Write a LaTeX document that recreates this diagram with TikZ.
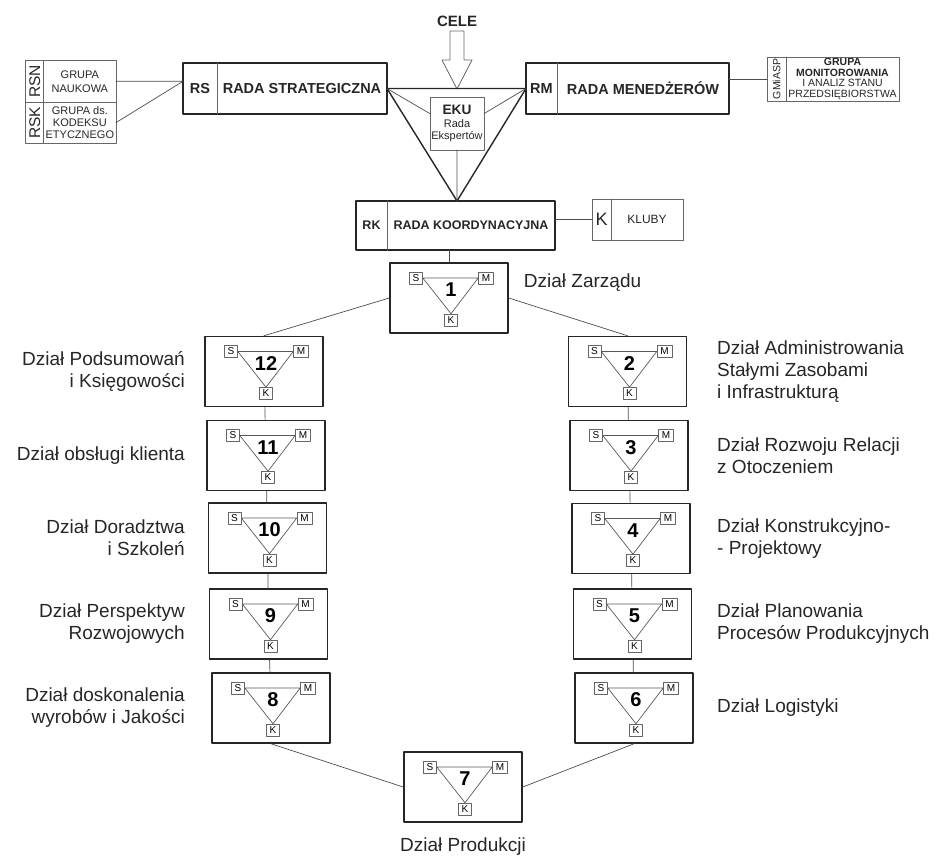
\documentclass[tikz,border=0pt]{standalone}
\usepackage{fontspec}
\setmainfont{Liberation Sans}
\usetikzlibrary{positioning}
\begin{document}
\begin{tikzpicture}[x=1pt,y=-1pt,line join=round,line cap=round]
	\tikzset{cell/.style={inner sep=0pt,outer sep=0pt,align=center,text=black!85},
		outline/.style={draw=black!85,line width=1.4pt},
		thinline/.style={draw=black!60,line width=0.8pt},
		deptbox/.style={draw=black!85,line width=1.5pt,minimum width=118pt,minimum height=70pt,inner sep=0pt},
		mini/.style={draw=black!60,line width=0.6pt,minimum width=13pt,minimum height=12pt,inner sep=0pt,font=\fontsize{10}{10}\selectfont},
		tri/.style={draw=black!65,line width=0.7pt},
		link/.style={draw=black!70,line width=0.7pt},
		num/.style={inner sep=0pt,font=\bfseries\fontsize{20}{20}\selectfont},
		deptlbl/.style={inner sep=0pt,text=black!85,font=\fontsize{19}{22}\selectfont}}
	\def \bigfont{\bfseries\fontsize{14.5}{15}\selectfont}
	\useasboundingbox (0,0) rectangle (936,857);
	\node[cell,font=\bfseries\fontsize{15}{15}\selectfont] (cele) at (457,21) {CELE};
	\draw[thinline,fill=white] (450,31) -- (464,31) -- (464,60) -- (472,60) -- (457,89) -- (442,60) -- (450,60) -- cycle;
	\node[cell,minimum width=34pt,minimum height=51pt,font=\bigfont] (rsab) at (200,88.5) {RS};
	\node[cell,minimum width=170pt,minimum height=51pt,font=\bigfont,right=0pt of rsab] (rs) {RADA STRATEGICZNA};
	\draw[outline] (rsab.north west) rectangle (rs.south east);
	\draw[thinline] (rsab.north east) -- (rsab.south east);
	\node[cell,minimum width=31pt,minimum height=51pt,font=\bigfont] (rmab) at (541.5,88.5) {RM};
	\node[cell,minimum width=172pt,minimum height=51pt,font=\bigfont,right=0pt of rmab] (rm) {RADA MENEDŻERÓW};
	\draw[outline] (rmab.north west) rectangle (rm.south east);
	\draw[thinline] (rmab.north east) -- (rmab.south east);
	\node[cell,minimum width=31pt,minimum height=49pt,font=\bfseries\fontsize{12.5}{13}\selectfont] (rkab) at (371.5,225.5) {RK};
	\node[cell,minimum width=168pt,minimum height=49pt,font=\bfseries\fontsize{12.5}{13}\selectfont,right=0pt of rkab] (rk) {RADA KOORDYNACYJNA};
	\draw[outline] (rkab.north west) rectangle (rk.south east);
	\draw[thinline] (rkab.north east) -- (rkab.south east);
	\node[cell,draw=black!60,line width=0.8pt,minimum width=54pt,minimum height=53pt,font=\fontsize{11}{12.5}\selectfont] (eku) at (457,123.5)
		{{\bfseries\fontsize{13.7}{14}\selectfont EKU}\\Rada\\Ekspertów};
	\coordinate (apex) at (eku.south |- rk.north);
	\draw[outline] (rs.east) -- (rmab.west) -- (apex) -- cycle;
	\draw[link] (rs.east) -- (eku.160) (eku.20) -- (rmab.west) (eku.south) -- (apex);
	\node[cell,minimum width=18pt,minimum height=41.3pt] (rsnab) at (34.7,81.3) {};
	\node[cell,minimum width=72.3pt,minimum height=41.3pt,font=\fontsize{11}{14}\selectfont,right=0pt of rsnab] (rsn) {GRUPA\\NAUKOWA};
	\node[cell,minimum width=18pt,minimum height=41.3pt,below=0pt of rsnab] (rskab) {};
	\node[cell,minimum width=72.3pt,minimum height=41.3pt,font=\fontsize{11}{11.8}\selectfont,right=0pt of rskab] (rsk) {GRUPA ds.\\KODEKSU\\ETYCZNEGO};
	\node[cell,rotate=90,font=\fontsize{15.5}{15.5}\selectfont] (rsnlbl) at (rsnab) {RSN};
	\node[cell,rotate=90,font=\fontsize{15.5}{15.5}\selectfont] (rsklbl) at (rskab) {RSK};
	\draw[thinline] (rsnab.north west) rectangle (rsk.south east) (rsnab.south west) -- (rsn.south east) (rsnab.north east) -- (rskab.south east);
	\draw[link] (rsn.east) -- (rsn.east -| rsab.west) coordinate (rsin) (rsk.east) -- (rsin);
	\node[cell,minimum width=19pt,minimum height=44pt] (gmab) at (776.5,79) {};
	\node[cell,minimum width=113pt,minimum height=44pt,font=\fontsize{10.5}{10.5}\selectfont,right=0pt of gmab] (gm)
		{\textbf{GRUPA}\\\textbf{MONITOROWANIA}\\I ANALIZ STANU\\PRZEDSIĘBIORSTWA};
	\node[cell,rotate=90,font=\fontsize{10.5}{10.5}\selectfont] (gmlbl) at (gmab) {GMiASP};
	\draw[thinline] (gmab.north west) rectangle (gm.south east) (gmab.north east) -- (gmab.south east);
	\draw[link] (rm.east |- gmab.west) -- (gmab.west);
	\node[cell,minimum width=19pt,minimum height=41pt,font=\fontsize{18}{18}\selectfont] (kab) at (601.5,219.5) {K};
	\node[cell,minimum width=72pt,minimum height=41pt,font=\fontsize{12}{12}\selectfont,right=0pt of kab] (kl) {KLUBY};
	\draw[thinline] (kab.north west) rectangle (kl.south east) (kab.north east) -- (kab.south east);
	\draw[link] (rk.east |- kab.west) -- (kab.west);
	\foreach \n/\x/\y in {1/449/298,2/627.5/371.5,3/629/455.5,4/631/538.5,5/632.5/624,6/634/708,7/463/787,
		8/271/708,9/268.5/624,10/267.5/538,11/266/455.5,12/264/371.5}{
		\node[deptbox] (d\n) at (\x,\y) {};
		\coordinate (c\n) at ([xshift=2pt]d\n.center);
		\node[mini] (s\n) at ([shift={(-35,-20)}]c\n) {S};
		\node[mini,minimum width=15pt] (m\n) at ([shift={(35,-20)}]c\n) {M};
		\node[mini] (k\n) at ([shift={(0,22)}]c\n) {K};
		\draw[tri] (s\n.east) -- (m\n.west) -- (k\n.north) -- cycle;
		\node[num] (n\n) at ([shift={(0,-8)}]c\n) {\n};
	}
	\draw[link] (d1.north) -- (d1.north |- rk.south);
	\foreach \a/\b in {12/11,11/10,10/9,9/8,2/3,3/4,4/5,5/6} \draw[link] (d\a) -- (d\b);
	\draw[link] (d1.west) -- (d12.north) (d1.east) -- (d2.north) (d8.south) -- (d7.west) (d6.south) -- (d7.east);
	\coordinate (lx) at (185,0);
	\coordinate (rx) at (717,0);
	\foreach \n/\txt in {12/{Dział Podsumowań\\i Księgowości},11/{Dział obsługi klienta},10/{Dział Doradztwa\\i Szkoleń},
		9/{Dział Perspektyw\\Rozwojowych},8/{Dział doskonalenia\\wyrobów i Jakości}}
		\node[deptlbl,anchor=east,align=right] (l\n) at (d\n -| lx) {\txt};
	\foreach \n/\txt in {2/{Dział Administrowania\\Stałymi Zasobami\\i Infrastrukturą},3/{Dział Rozwoju Relacji\\z Otoczeniem},
		4/{Dział Konstrukcyjno-\\- Projektowy},5/{Dział Planowania\\Procesów Produkcyjnych},6/{Dział Logistyki}}
		\node[deptlbl,anchor=west,align=left] (l\n) at (d\n -| rx) {\txt};
	\node[deptlbl,anchor=west] (l1) at ([shift={(15,-15)}]d1.east) {Dział Zarządu};
	\node[deptlbl,below=15pt of d7] (l7) {Dział Produkcji};
\end{tikzpicture}
\end{document}
